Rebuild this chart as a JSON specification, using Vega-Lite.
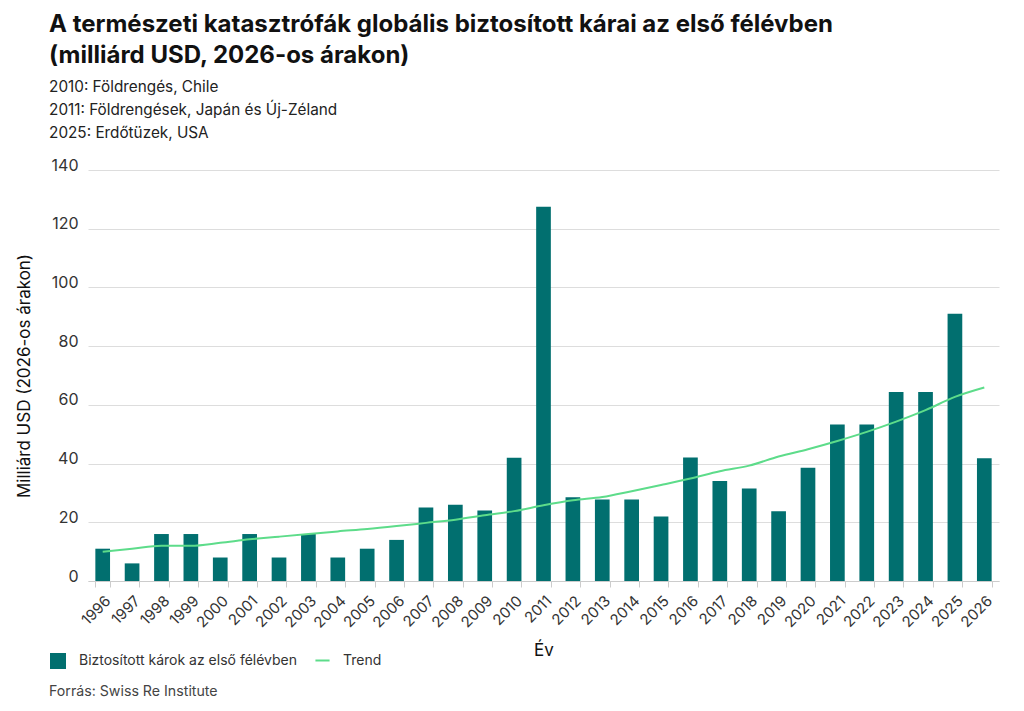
{
  "$schema": "https://vega.github.io/schema/vega-lite/v6.json",
  "background": "white",
  "padding": {"left": 15, "top": 12, "right": 24, "bottom": 10},
  "title": {
    "text": ["A természeti katasztrófák globális biztosított kárai az első félévben", "(milliárd USD, 2026-os árakon)"],
    "subtitle": ["2010: Földrengés, Chile", "2011: Földrengések, Japán és Új-Zéland", "2025: Erdőtüzek, USA"],
    "anchor": "start",
    "frame": "bounds",
    "dx": 34,
    "offset": 16,
    "font": "Inter",
    "fontSize": 24,
    "fontWeight": "bold",
    "lineHeight": 31,
    "color": "#111111",
    "subtitleFont": "Inter",
    "subtitleFontSize": 15.3,
    "subtitleLineHeight": 23,
    "subtitleColor": "#222222",
    "subtitlePadding": 12
  },
  "datasets": {
    "losses": [
      {"year": "1996", "loss": 11, "trend": 10},
      {"year": "1997", "loss": 6, "trend": 11},
      {"year": "1998", "loss": 16, "trend": 12},
      {"year": "1999", "loss": 16, "trend": 12},
      {"year": "2000", "loss": 8, "trend": 13},
      {"year": "2001", "loss": 16, "trend": 14.2},
      {"year": "2002", "loss": 8, "trend": 15.1},
      {"year": "2003", "loss": 16, "trend": 16},
      {"year": "2004", "loss": 8, "trend": 16.9},
      {"year": "2005", "loss": 11, "trend": 17.7},
      {"year": "2006", "loss": 14, "trend": 18.7},
      {"year": "2007", "loss": 25, "trend": 19.8},
      {"year": "2008", "loss": 26, "trend": 20.9},
      {"year": "2009", "loss": 24, "trend": 22.4},
      {"year": "2010", "loss": 42, "trend": 23.8},
      {"year": "2011", "loss": 127.5, "trend": 25.8},
      {"year": "2012", "loss": 28.5, "trend": 27.5},
      {"year": "2013", "loss": 27.8, "trend": 28.6},
      {"year": "2014", "loss": 27.8, "trend": 30.6},
      {"year": "2015", "loss": 22, "trend": 32.7},
      {"year": "2016", "loss": 42.1, "trend": 34.9},
      {"year": "2017", "loss": 34.1, "trend": 37.4},
      {"year": "2018", "loss": 31.5, "trend": 39.3},
      {"year": "2019", "loss": 23.8, "trend": 42.4},
      {"year": "2020", "loss": 38.6, "trend": 44.9},
      {"year": "2021", "loss": 53.3, "trend": 47.7},
      {"year": "2022", "loss": 53.3, "trend": 50.8},
      {"year": "2023", "loss": 64.4, "trend": 54.3},
      {"year": "2024", "loss": 64.4, "trend": 58.2},
      {"year": "2025", "loss": 91, "trend": 62.7},
      {"year": "2026", "loss": 41.8, "trend": 65.9}
    ]
  },
  "vconcat": [
    {
      "width": 911,
      "height": 411,
      "title": {
        "text": "Forrás: Swiss Re Institute",
        "orient": "bottom",
        "anchor": "start",
        "frame": "group",
        "dx": -39,
        "offset": 27,
        "font": "Inter",
        "fontSize": 14.2,
        "fontWeight": "normal",
        "color": "#444444"
      },
      "data": {"name": "losses"},
      "encoding": {
        "x": {
          "field": "year",
          "type": "ordinal",
          "title": "Év",
          "scale": {"paddingInner": 0.5, "paddingOuter": 0.25},
          "axis": {
            "labelAngle": -45,
            "labelFont": "Inter",
            "labelFontSize": 15,
            "labelColor": "#333333",
            "labelPadding": 6,
            "tickBand": "extent",
            "tickColor": "#cccccc",
            "tickSize": 6,
            "domainColor": "#cccccc",
            "titleFont": "Inter",
            "titleFontSize": 17,
            "titleFontWeight": "normal",
            "titleColor": "#111111",
            "titlePadding": 12
          }
        }
      },
      "layer": [
        {
          "mark": {"type": "bar"},
          "encoding": {
            "y": {
              "field": "loss",
              "type": "quantitative",
              "title": "Milliárd USD (2026-os árakon)",
              "scale": {"domain": [0, 140]},
              "axis": {
                "values": [0, 20, 40, 60, 80, 100, 120, 140],
                "domain": false,
                "ticks": false,
                "gridColor": "#dddddd",
                "labelFont": "Inter",
                "labelFontSize": 16,
                "labelColor": "#333333",
                "labelPadding": 10,
                "labelBaseline": "alphabetic",
                "titleFont": "Inter",
                "titleFontSize": 17,
                "titleFontWeight": "normal",
                "titleColor": "#111111",
                "titlePadding": 18
              }
            },
            "color": {
              "datum": "Biztosított károk az első félévben",
              "scale": {"range": ["#016f6f"]},
              "legend": {
                "title": null,
                "orient": "none",
                "legendX": -39,
                "legendY": 482,
                "symbolType": "square",
                "symbolSize": 256,
                "symbolOpacity": 1,
                "labelFont": "Inter",
                "labelFontSize": 14,
                "labelColor": "#333333",
                "labelOffset": 12,
                "labelLimit": 0
              }
            }
          }
        },
        {
          "mark": {"type": "line", "strokeWidth": 2, "interpolate": "monotone"},
          "encoding": {
            "y": {"field": "trend", "type": "quantitative"},
            "stroke": {
              "datum": "Trend",
              "scale": {"range": ["#5ddc8a"]},
              "legend": {
                "title": null,
                "orient": "none",
                "legendX": 226,
                "legendY": 482,
                "symbolType": "stroke",
                "symbolSize": 200,
                "symbolStrokeWidth": 2,
                "labelFont": "Inter",
                "labelFontSize": 14,
                "labelColor": "#333333",
                "labelOffset": 12,
                "labelLimit": 0
              }
            }
          }
        }
      ]
    }
  ],
  "config": {
    "view": {"stroke": null},
    "axisX": {"grid": false}
  }
}
